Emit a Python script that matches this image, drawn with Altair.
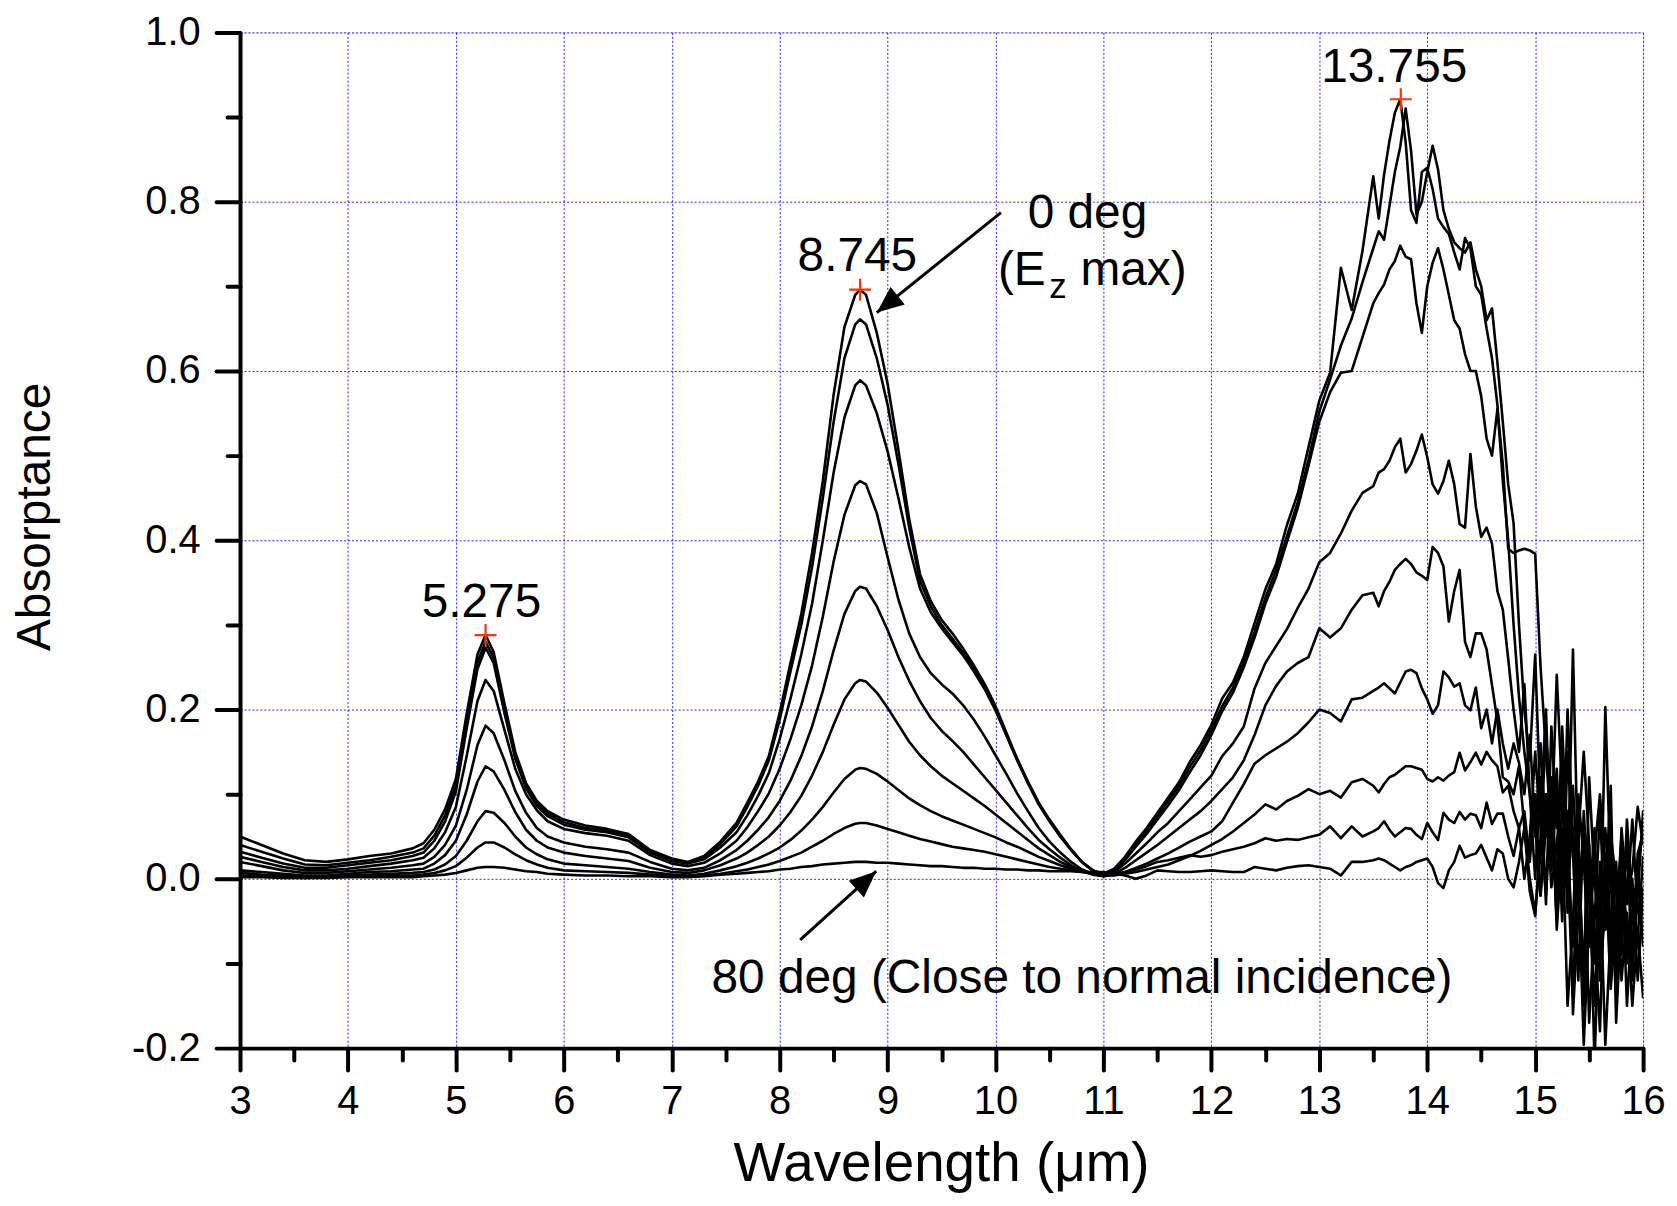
import altair as alt
import pandas as pd

# ---------------- data ----------------
WAVELENGTH = [
    3.0, 3.2, 3.4, 3.6, 3.8, 4.0, 4.2, 4.4, 4.6,
    4.7, 4.8, 4.9, 5.0, 5.1, 5.2, 5.275, 5.35, 5.45, 5.55, 5.65, 5.75, 5.85,
    6.0, 6.2, 6.4, 6.6, 6.8, 7.0, 7.15, 7.3, 7.45,
    7.6, 7.7, 7.8, 7.9, 8.0, 8.1, 8.2, 8.3, 8.4, 8.5, 8.6, 8.7, 8.745, 8.8, 8.9, 9.0, 9.1, 9.2,
    9.3, 9.4, 9.5, 9.6, 9.7, 9.8, 9.9, 10.0, 10.1, 10.2, 10.3, 10.4, 10.5, 10.6, 10.7, 10.8, 10.9,
    11.0, 11.1, 11.2, 11.3, 11.4, 11.5, 11.6, 11.7, 11.8, 11.9, 12.0, 12.1, 12.2, 12.3, 12.4, 12.5,
    12.6, 12.7, 12.8, 12.9, 13.0, 13.1, 13.2, 13.3, 13.4, 13.5,
    13.55, 13.6, 13.65, 13.7, 13.75, 13.8, 13.85, 13.9, 13.95, 14.0, 14.05, 14.1, 14.15, 14.2,
    14.25, 14.3, 14.35, 14.4,
    14.45, 14.5, 14.55, 14.6, 14.65, 14.7, 14.75, 14.8, 14.85, 14.9, 14.95, 15.0, 15.05, 15.1,
    15.15, 15.2, 15.25, 15.3, 15.35, 15.4, 15.45, 15.5, 15.55, 15.6, 15.65, 15.7, 15.75, 15.8,
    15.85, 15.9, 15.95, 16.0,
]

ABS_0 = [
    0.050, 0.040, 0.030, 0.022, 0.020, 0.023, 0.027, 0.030, 0.036,
    0.042, 0.058, 0.082, 0.118, 0.195, 0.265, 0.288, 0.268, 0.207, 0.150, 0.113, 0.092, 0.080,
    0.070, 0.063, 0.059, 0.053, 0.034, 0.024, 0.020, 0.027, 0.044,
    0.066, 0.090, 0.115, 0.145, 0.196, 0.255, 0.313, 0.385, 0.470, 0.572, 0.652, 0.690, 0.696,
    0.690, 0.645, 0.585, 0.507, 0.425, 0.360, 0.328, 0.306, 0.290, 0.272, 0.252, 0.230, 0.204,
    0.173, 0.142, 0.115, 0.090, 0.070, 0.052, 0.035, 0.020, 0.010,
    0.006, 0.012, 0.026, 0.044, 0.060, 0.078, 0.096, 0.114, 0.138, 0.158, 0.182, 0.213, 0.232,
    0.262, 0.302, 0.342, 0.372, 0.418, 0.455, 0.510, 0.565, 0.598, 0.722, 0.672, 0.742, 0.830,
    0.780, 0.832, 0.872, 0.905, 0.921, 0.870, 0.790, 0.775, 0.835, 0.840, 0.815, 0.780, 0.770,
    0.762, 0.740, 0.720, 0.757, 0.745,
    0.700, 0.690, 0.650, 0.615, 0.560, 0.470, 0.400, 0.300, 0.215, 0.150, 0.100, 0.050, 0.160,
    0.050, 0.120, -0.020, 0.180, 0.040, -0.080, 0.060, -0.150, 0.020, -0.060, -0.180, 0.030,
    -0.100, 0.010, -0.060, 0.040, -0.090, 0.020, 0.060,
]

ABS_10 = [
    0.040, 0.032, 0.024, 0.017, 0.016, 0.019, 0.022, 0.026, 0.031,
    0.036, 0.051, 0.075, 0.110, 0.186, 0.256, 0.280, 0.261, 0.201, 0.146, 0.110, 0.089, 0.077,
    0.067, 0.060, 0.057, 0.051, 0.032, 0.022, 0.019, 0.025, 0.041,
    0.062, 0.085, 0.110, 0.140, 0.188, 0.245, 0.300, 0.368, 0.450, 0.540, 0.615, 0.655, 0.661,
    0.655, 0.615, 0.560, 0.490, 0.415, 0.352, 0.322, 0.300, 0.284, 0.267, 0.248, 0.226, 0.200,
    0.170, 0.140, 0.113, 0.088, 0.068, 0.050, 0.034, 0.020, 0.010,
    0.005, 0.010, 0.024, 0.041, 0.057, 0.074, 0.092, 0.110, 0.132, 0.152, 0.176, 0.204, 0.226,
    0.256, 0.292, 0.332, 0.365, 0.405, 0.445, 0.495, 0.552, 0.590, 0.630, 0.662, 0.705, 0.745,
    0.765, 0.755, 0.795, 0.835, 0.865, 0.910, 0.860, 0.785, 0.800, 0.835, 0.866, 0.838, 0.790,
    0.768, 0.752, 0.745, 0.740, 0.752,
    0.720, 0.700, 0.660, 0.674, 0.610, 0.540, 0.466, 0.420, 0.300, 0.200, 0.140, 0.265, 0.080,
    0.200, 0.010, 0.100, -0.050, 0.150, 0.030, -0.120, 0.080, -0.030, 0.060, -0.100, 0.203,
    0.000, -0.140, 0.020, -0.030, 0.070, -0.040, -0.010,
]

ABS_20 = [
    0.032, 0.025, 0.018, 0.013, 0.013, 0.016, 0.019, 0.022, 0.027,
    0.031, 0.045, 0.068, 0.103, 0.178, 0.248, 0.273, 0.255, 0.196, 0.142, 0.107, 0.086, 0.074,
    0.064, 0.058, 0.055, 0.049, 0.031, 0.021, 0.018, 0.023, 0.037,
    0.055, 0.075, 0.098, 0.125, 0.165, 0.213, 0.265, 0.325, 0.400, 0.480, 0.545, 0.583, 0.589,
    0.583, 0.550, 0.505, 0.450, 0.392, 0.343, 0.315, 0.296, 0.280, 0.264, 0.245, 0.224, 0.199,
    0.170, 0.141, 0.114, 0.089, 0.069, 0.050, 0.034, 0.020, 0.010,
    0.005, 0.009, 0.022, 0.038, 0.053, 0.070, 0.087, 0.105, 0.126, 0.146, 0.170, 0.198, 0.220,
    0.250, 0.285, 0.325, 0.357, 0.398, 0.438, 0.488, 0.540, 0.575, 0.598, 0.600, 0.640, 0.680,
    0.692, 0.702, 0.720, 0.730, 0.748, 0.735, 0.732, 0.680, 0.645, 0.700, 0.728, 0.745, 0.720,
    0.690, 0.660, 0.650, 0.620, 0.600,
    0.600, 0.570, 0.520, 0.500, 0.555, 0.490, 0.390, 0.385, 0.388, 0.390, 0.388, 0.384, 0.250,
    0.150, 0.050, 0.241, 0.100, -0.040, 0.110, -0.010, 0.050, -0.170, -0.050, 0.080, -0.060,
    0.030, -0.090, 0.060, -0.020, 0.010, 0.085, 0.040,
]

ABS_30 = [
    0.026, 0.020, 0.014, 0.010, 0.010, 0.012, 0.015, 0.018, 0.022,
    0.025, 0.036, 0.055, 0.085, 0.145, 0.210, 0.235, 0.222, 0.176, 0.130, 0.100, 0.081, 0.068,
    0.059, 0.054, 0.051, 0.045, 0.028, 0.018, 0.015, 0.019, 0.030,
    0.045, 0.061, 0.080, 0.101, 0.130, 0.165, 0.205, 0.252, 0.310, 0.375, 0.430, 0.465, 0.470,
    0.466, 0.432, 0.380, 0.330, 0.290, 0.262, 0.243, 0.230, 0.219, 0.205, 0.188, 0.168, 0.146,
    0.124, 0.101, 0.080, 0.060, 0.044, 0.031, 0.020, 0.011, 0.006,
    0.004, 0.008, 0.018, 0.030, 0.042, 0.055, 0.066, 0.080, 0.094, 0.108, 0.122, 0.145, 0.160,
    0.180, 0.225, 0.255, 0.275, 0.295, 0.320, 0.343, 0.374, 0.385, 0.408, 0.435, 0.456, 0.464,
    0.480, 0.484, 0.494, 0.510, 0.520, 0.480, 0.490, 0.506, 0.525, 0.498, 0.466, 0.455, 0.470,
    0.494, 0.466, 0.419, 0.415, 0.502,
    0.440, 0.404, 0.415, 0.396, 0.340, 0.318, 0.260, 0.200, 0.150, 0.230, 0.100, 0.000, 0.120,
    -0.030, 0.180, 0.060, 0.150, -0.010, 0.271, 0.000, -0.196, -0.050, 0.040, -0.120, -0.030,
    0.070, -0.080, 0.030, -0.150, -0.040, 0.010, -0.080,
]

ABS_40 = [
    0.020, 0.015, 0.010, 0.007, 0.007, 0.009, 0.011, 0.013, 0.016,
    0.018, 0.026, 0.040, 0.063, 0.105, 0.158, 0.181, 0.172, 0.140, 0.104, 0.078, 0.060, 0.050,
    0.043, 0.038, 0.035, 0.031, 0.020, 0.012, 0.010, 0.013, 0.022,
    0.034, 0.045, 0.058, 0.073, 0.092, 0.116, 0.145, 0.180, 0.222, 0.270, 0.313, 0.340, 0.345,
    0.343, 0.322, 0.294, 0.262, 0.234, 0.210, 0.190, 0.175, 0.163, 0.150, 0.135, 0.120, 0.105,
    0.090, 0.075, 0.060, 0.046, 0.035, 0.025, 0.016, 0.009, 0.005,
    0.003, 0.006, 0.013, 0.022, 0.031, 0.040, 0.050, 0.060, 0.070, 0.080, 0.092, 0.106, 0.120,
    0.140, 0.170, 0.205, 0.228, 0.245, 0.255, 0.262, 0.296, 0.285, 0.296, 0.318, 0.335, 0.338,
    0.322, 0.340, 0.351, 0.365, 0.372, 0.378, 0.372, 0.362, 0.358, 0.353, 0.392, 0.385, 0.369,
    0.304, 0.340, 0.365, 0.280, 0.262,
    0.290, 0.290, 0.271, 0.229, 0.186, 0.120, 0.115, 0.100, 0.133, 0.060, -0.015, -0.044, 0.050,
    0.170, 0.080, -0.050, 0.090, 0.020, -0.140, 0.050, 0.150, 0.040, -0.100, 0.000, -0.196,
    -0.060, 0.020, -0.120, -0.040, -0.150, -0.060, -0.141,
]

ABS_50 = [
    0.010, 0.008, 0.006, 0.004, 0.004, 0.006, 0.008, 0.009, 0.011,
    0.012, 0.018, 0.028, 0.045, 0.076, 0.115, 0.133, 0.127, 0.105, 0.079, 0.058, 0.045, 0.037,
    0.031, 0.027, 0.024, 0.021, 0.013, 0.008, 0.007, 0.010, 0.016,
    0.024, 0.031, 0.040, 0.050, 0.063, 0.079, 0.098, 0.122, 0.150, 0.182, 0.212, 0.231, 0.235,
    0.233, 0.220, 0.202, 0.182, 0.162, 0.146, 0.133, 0.122, 0.113, 0.104, 0.095, 0.086, 0.076,
    0.066, 0.056, 0.046, 0.036, 0.028, 0.020, 0.014, 0.009, 0.006,
    0.003, 0.005, 0.008, 0.013, 0.018, 0.024, 0.030, 0.037, 0.044, 0.050, 0.056, 0.068, 0.090,
    0.112, 0.136, 0.146, 0.154, 0.162, 0.172, 0.185, 0.200, 0.196, 0.186, 0.212, 0.214, 0.222,
    0.226, 0.231, 0.225, 0.219, 0.232, 0.245, 0.247, 0.243, 0.225, 0.212, 0.195, 0.205, 0.245,
    0.238, 0.227, 0.231, 0.205, 0.199,
    0.226, 0.178, 0.200, 0.160, 0.200, 0.160, 0.130, 0.160, 0.137, 0.100, 0.170, 0.060, -0.020,
    0.100, 0.030, 0.130, -0.030, 0.200, 0.050, 0.030, -0.120, 0.120, 0.000, -0.080, -0.020,
    0.110, -0.170, -0.040, 0.050, -0.110, -0.020, 0.081,
]

ABS_60 = [
    0.007, 0.005, 0.004, 0.002, 0.003, 0.004, 0.005, 0.006, 0.007,
    0.008, 0.011, 0.017, 0.027, 0.045, 0.068, 0.080, 0.078, 0.066, 0.050, 0.037, 0.029, 0.023,
    0.018, 0.016, 0.014, 0.012, 0.008, 0.005, 0.004, 0.006, 0.010,
    0.015, 0.019, 0.024, 0.030, 0.037, 0.046, 0.057, 0.070, 0.085, 0.102, 0.118, 0.129, 0.131,
    0.130, 0.124, 0.115, 0.105, 0.095, 0.087, 0.080, 0.074, 0.069, 0.064, 0.059, 0.054, 0.049,
    0.043, 0.038, 0.032, 0.026, 0.021, 0.016, 0.012, 0.009, 0.007,
    0.004, 0.004, 0.006, 0.008, 0.011, 0.014, 0.017, 0.022, 0.027, 0.033, 0.040, 0.047, 0.056,
    0.066, 0.076, 0.088, 0.082, 0.092, 0.098, 0.106, 0.100, 0.104, 0.096, 0.114, 0.118, 0.110,
    0.102, 0.112, 0.120, 0.123, 0.128, 0.133, 0.133, 0.131, 0.129, 0.118, 0.115, 0.120, 0.116,
    0.122, 0.126, 0.149, 0.128, 0.138,
    0.149, 0.135, 0.150, 0.140, 0.133, 0.102, 0.110, 0.080, 0.060, 0.000, 0.050, 0.150, 0.060,
    -0.020, 0.090, 0.000, 0.060, -0.150, -0.050, 0.100, 0.020, -0.080, 0.030, 0.100, 0.010,
    -0.130, -0.040, 0.050, -0.100, 0.000, -0.120, -0.015,
]

ABS_70 = [
    0.004, 0.003, 0.002, 0.001, 0.002, 0.003, 0.003, 0.004, 0.004,
    0.005, 0.007, 0.010, 0.015, 0.025, 0.037, 0.043, 0.043, 0.037, 0.029, 0.022, 0.017, 0.013,
    0.010, 0.009, 0.008, 0.007, 0.005, 0.003, 0.003, 0.004, 0.006,
    0.009, 0.011, 0.014, 0.017, 0.021, 0.026, 0.031, 0.038, 0.045, 0.053, 0.060, 0.065, 0.066,
    0.066, 0.063, 0.059, 0.055, 0.051, 0.047, 0.044, 0.041, 0.038, 0.036, 0.034, 0.032, 0.029,
    0.026, 0.023, 0.020, 0.017, 0.014, 0.012, 0.010, 0.008, 0.007,
    0.005, 0.006, 0.008, 0.011, 0.015, 0.020, 0.022, 0.025, 0.028, 0.026, 0.028, 0.032, 0.035,
    0.038, 0.042, 0.048, 0.045, 0.047, 0.046, 0.049, 0.052, 0.062, 0.048, 0.062, 0.050, 0.056,
    0.060, 0.068, 0.058, 0.050, 0.055, 0.060, 0.059, 0.052, 0.047, 0.066, 0.055, 0.046, 0.078,
    0.070, 0.066, 0.079, 0.070, 0.077,
    0.075, 0.060, 0.090, 0.065, 0.077, 0.077, 0.050, 0.027, 0.060, 0.080, 0.020, 0.100, -0.020,
    0.060, 0.110, -0.060, 0.040, 0.080, -0.160, -0.040, 0.040, -0.020, -0.150, 0.020, -0.060,
    0.050, 0.000, -0.090, 0.070, -0.030, -0.070, 0.027,
]

ABS_80 = [
    0.002, 0.002, 0.001, 0.001, 0.001, 0.002, 0.002, 0.002, 0.002,
    0.003, 0.004, 0.005, 0.007, 0.010, 0.013, 0.014, 0.014, 0.013, 0.011, 0.009, 0.008, 0.006,
    0.005, 0.004, 0.004, 0.003, 0.003, 0.002, 0.002, 0.003, 0.005,
    0.006, 0.007, 0.008, 0.009, 0.011, 0.012, 0.014, 0.015, 0.017, 0.018, 0.019, 0.020, 0.020,
    0.020, 0.019, 0.019, 0.018, 0.017, 0.016, 0.015, 0.015, 0.014, 0.013, 0.013, 0.012, 0.012,
    0.011, 0.011, 0.010, 0.010, 0.009, 0.009, 0.009, 0.008, 0.008,
    0.008, 0.006, 0.004, 0.000, 0.004, 0.010, 0.009, 0.008, 0.008, 0.009, 0.010, 0.009, 0.008,
    0.008, 0.014, 0.012, 0.010, 0.013, 0.015, 0.016, 0.014, 0.012, 0.004, 0.020, 0.020, 0.022,
    0.024, 0.022, 0.018, 0.014, 0.010, 0.014, 0.016, 0.020, 0.022, 0.024, 0.014, -0.005, -0.011,
    0.010, 0.020, 0.039, 0.025, 0.028,
    0.030, 0.040, 0.025, 0.010, 0.035, 0.030, 0.000, -0.010, 0.020, 0.060, 0.000, -0.040, 0.030,
    0.100, -0.010, 0.040, 0.120, 0.000, 0.060, -0.030, -0.100, 0.040, -0.220, -0.010, 0.060,
    -0.060, -0.110, 0.000, -0.050, -0.120, 0.030, 0.052,
]

ANGLES = ["0 deg", "10 deg", "20 deg", "30 deg", "40 deg", "50 deg", "60 deg", "70 deg", "80 deg"]
CURVES = [ABS_0, ABS_10, ABS_20, ABS_30, ABS_40, ABS_50, ABS_60, ABS_70, ABS_80]

# peak markers and their labels
PEAK_WL = [5.275, 8.745, 13.755]
PEAK_ABS = [0.288, 0.696, 0.921]
PEAK_LABEL = ["5.275", "8.745", "13.755"]
PEAK_LABEL_WL = [5.237, 8.720, 13.694]
PEAK_LABEL_ABS = [0.309, 0.718, 0.941]

# axis ticks
X_MAJOR = [3, 4, 5, 6, 7, 8, 9, 10, 11, 12, 13, 14, 15, 16]
X_MINOR = [3.5, 4.5, 5.5, 6.5, 7.5, 8.5, 9.5, 10.5, 11.5, 12.5, 13.5, 14.5, 15.5]
Y_MAJOR = [-0.2, 0.0, 0.2, 0.4, 0.6, 0.8, 1.0]
Y_MINOR = [-0.1, 0.1, 0.3, 0.5, 0.7, 0.9]
X_TITLE = "Wavelength (μm)"

# ---------------- tables ----------------
rows = []
for ang, vals in zip(ANGLES, CURVES):
    for w, a in zip(WAVELENGTH, vals):
        rows.append({"wl": w, "A": a, "angle": ang})
df = pd.DataFrame(rows)

peaks = pd.DataFrame({"wl": PEAK_WL, "A": PEAK_ABS})
peak_labels = pd.DataFrame({"wl": PEAK_LABEL_WL, "A": PEAK_LABEL_ABS, "label": PEAK_LABEL})

left_texts = pd.DataFrame({
    "wl": [10.298, 10.787, 7.368],
    "A": [0.769, 0.702, -0.135],
    "label": ["0 deg", "max)", "80 deg (Close to normal incidence)"],
})
right_texts = pd.DataFrame({"wl": [10.465], "A": [0.702], "label": ["(E"]})
sub_texts = pd.DataFrame({"wl": [10.497], "A": [0.686], "label": ["z"]})
# x-axis title, placed centred below the tick labels
x_title = pd.DataFrame({"wl": [9.5], "A": [-0.357], "label": [X_TITLE]})

arrows = pd.DataFrame({
    "x0": [10.05, 8.19], "y0": [0.787, -0.072],
    "x1": [8.90, 8.895], "y1": [0.669, 0.009],
    "ang": [231.1, 48.0],
})

FONT = "Liberation Sans, Arial, Helvetica, sans-serif"
xscale = alt.Scale(domain=[3, 16], nice=False, zero=False)
yscale = alt.Scale(domain=[-0.2, 1.0], nice=False, zero=False)

x_axis = alt.Axis(
    values=X_MAJOR, orient="bottom", title=None,
    grid=True, gridColor="#0000ff", gridDash=[2, 2], gridWidth=1, gridOpacity=0.85,
    domain=True, domainColor="black", domainWidth=4,
    ticks=True, tickSize=22, tickWidth=4, tickColor="black", tickCap="round",
    labelFont=FONT, labelFontSize=40, labelColor="black", labelPadding=12,
    labelFlush=False, labelOverlap=False,
)
y_axis = alt.Axis(
    values=Y_MAJOR, orient="left", title="Absorptance",
    labelExpr="datum.value < 0 ? '-' + format(-datum.value, '.1f') : format(datum.value, '.1f')",
    grid=True, gridColor="#0000ff", gridDash=[2, 2], gridWidth=1, gridOpacity=0.85,
    domain=True, domainColor="black", domainWidth=4,
    ticks=True, tickSize=24, tickWidth=4, tickColor="black", tickCap="round",
    labelFont=FONT, labelFontSize=40, labelColor="black", labelPadding=16,
    labelOverlap=False,
    titleFont=FONT, titleFontSize=48, titleFontWeight="normal", titleColor="black",
    titleAngle=270, titleX=-191, titleY=486, titleAlign="center", titleBaseline="alphabetic",
)
x_minor = alt.Axis(
    values=X_MINOR, orient="bottom", title=None, labels=False, grid=False, domain=False,
    ticks=True, tickSize=12, tickWidth=4, tickColor="black", tickCap="round",
)
y_minor = alt.Axis(
    values=Y_MINOR, orient="left", title=None, labels=False, grid=False, domain=False,
    ticks=True, tickSize=13, tickWidth=4, tickColor="black", tickCap="round",
)

lines = alt.Chart(df).mark_line(color="black", strokeWidth=2.6, clip=True, strokeJoin="round").encode(
    x=alt.X("wl:Q", scale=xscale, axis=x_axis),
    y=alt.Y("A:Q", scale=yscale, axis=y_axis),
    detail="angle:N",
)

minor = alt.Chart(peaks).mark_point(opacity=0).encode(
    x=alt.X("wl:Q", scale=xscale, axis=x_minor),
    y=alt.Y("A:Q", scale=yscale, axis=y_minor),
)

crosses = alt.Chart(peaks).mark_point(
    shape="M-1,0L1,0M0,-1L0,1", size=484, filled=False, stroke="#ff3300", strokeWidth=2.2, opacity=1
).encode(
    x=alt.X("wl:Q", scale=xscale, axis=None),
    y=alt.Y("A:Q", scale=yscale, axis=None),
)

def text_layer(data, align, size):
    return alt.Chart(data).mark_text(
        font=FONT, fontSize=size, color="black", align=align, baseline="alphabetic"
    ).encode(
        x=alt.X("wl:Q", scale=xscale, axis=None),
        y=alt.Y("A:Q", scale=yscale, axis=None),
        text="label:N",
    )

peak_text = text_layer(peak_labels, "center", 48)
left_text = text_layer(left_texts, "left", 48)
right_text = text_layer(right_texts, "right", 48)
sub_text = text_layer(sub_texts, "left", 35)
title_text = text_layer(x_title, "center", 55)

shafts = alt.Chart(arrows).mark_rule(color="black", strokeWidth=3).encode(
    x=alt.X("x0:Q", scale=xscale, axis=None),
    y=alt.Y("y0:Q", scale=yscale, axis=None),
    x2="x1:Q",
    y2="y1:Q",
)
heads = alt.Chart(arrows).mark_point(
    shape="M0,0L-0.42,1L0.42,1Z", size=2900, filled=True, color="black", opacity=1
).encode(
    x=alt.X("x1:Q", scale=xscale, axis=None),
    y=alt.Y("y1:Q", scale=yscale, axis=None),
    angle=alt.Angle("ang:Q", scale=None),
)

chart = alt.layer(
    lines, minor, crosses, peak_text, left_text, right_text, sub_text, title_text, shafts, heads
).resolve_axis(
    x="independent", y="independent"
).properties(
    width=1409, height=1020,
    padding={"left": 233, "top": 22, "right": 26, "bottom": 148},
    autosize=alt.AutoSizeParams(type="none"),
).configure_view(
    stroke="black", strokeWidth=4
).configure(
    background="white"
)

chart.save("out.html", embed_options={"renderer": "svg", "actions": False})
